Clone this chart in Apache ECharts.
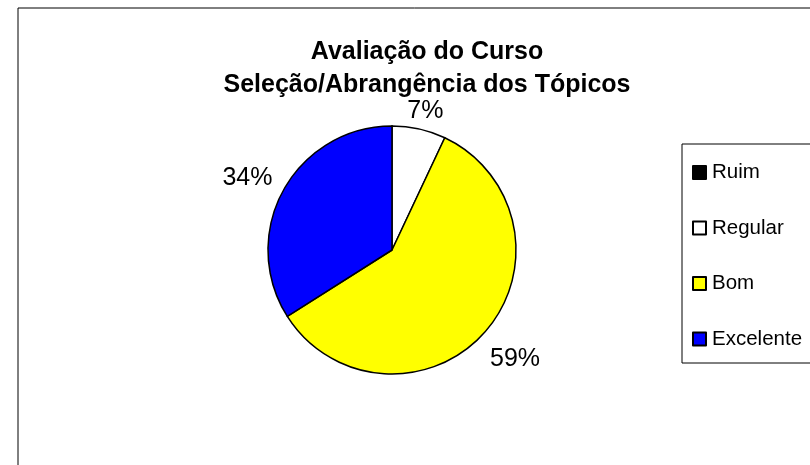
<!DOCTYPE html>
<html>
<head>
<meta charset="utf-8">
<script src="https://cdn.jsdelivr.net/npm/echarts@6/dist/echarts.min.js"></script>
<style>
  html, body { margin: 0; padding: 0; background: #fff; }
  #chart { width: 810px; height: 465px; }
</style>
</head>
<body>
<div id="chart"></div>
<script>
// dados
const categories = ["Ruim", "Regular", "Bom", "Excelente"];
const percents = [0, 7, 59, 34];
const colors = ["#000000", "#FFFFFF", "#FFFF00", "#0000FF"];

const FONT = "Liberation Sans, Arial, sans-serif";
const CX = 392, CY = 250, R = 124;
const LABEL_GAP = 7;

const chart = echarts.init(document.getElementById("chart"));

const pieData = categories.map((name, i) => ({
  name: name,
  value: percents[i],
  itemStyle: { color: colors[i] }
}));

const total = percents.reduce((a, b) => a + b, 0);

// rótulo centrado na direção do meio da fatia, logo fora do círculo (como no Excel)
const placeLabel = p => {
  const i = p.dataIndex;
  let cum = 0;
  for (let k = 0; k < i; k++) cum += percents[k];
  const ang = (90 - 360 * (cum + percents[i] / 2) / total) * Math.PI / 180;
  const dx = Math.cos(ang), dy = -Math.sin(ang);
  const hw = p.labelRect.width / 2, hh = p.labelRect.height / 2;
  const d = R + LABEL_GAP + hw * Math.abs(dx) + hh * Math.abs(dy);
  return { x: CX + dx * (d + 6), y: CY + dy * d + 5, align: "center", verticalAlign: "middle" };
};

const option = {
  backgroundColor: "#fff",
  animation: false,
  title: {
    text: "Avaliação do Curso\nSeleção/Abrangência dos Tópicos",
    left: 422,
    top: 31,
    textAlign: "center",
    textStyle: {
      fontFamily: FONT,
      fontWeight: "bold",
      fontSize: 25,
      lineHeight: 33,
      color: "#000"
    }
  },
  graphic: [
    {
      type: "rect",
      shape: { x: 18, y: 8, width: 820, height: 480 },
      style: { fill: "none", stroke: "#000", lineWidth: 1 },
      z: -1
    },
    {
      type: "rect",
      shape: { x: 682, y: 144, width: 160, height: 219 },
      style: { fill: "#fff", stroke: "#000", lineWidth: 1 },
      z: 0
    }
  ],
  legend: {
    orient: "vertical",
    left: 692,
    top: 162,
    padding: 0,
    itemWidth: 13,
    itemHeight: 13,
    itemGap: 34.5,
    icon: "rect",
    data: categories,
    textStyle: {
      fontFamily: FONT,
      fontSize: 20.5,
      lineHeight: 20,
      color: "#000",
      padding: [0, 0, 0, 1]
    },
    z: 5
  },
  series: [
    {
      type: "pie",
      center: [CX, CY],
      radius: R,
      startAngle: 90,
      clockwise: true,
      avoidLabelOverlap: false,
      itemStyle: { borderColor: "#000", borderWidth: 1.5 },
      emphasis: { disabled: true },
      label: {
        show: true,
        position: "outside",
        formatter: p => (p.value ? Math.round(p.percent) + "%" : ""),
        fontFamily: FONT,
        fontSize: 25,
        color: "#000"
      },
      labelLine: { show: false },
      labelLayout: placeLabel,
      data: pieData
    }
  ]
};

chart.setOption(option);
</script>
</body>
</html>
